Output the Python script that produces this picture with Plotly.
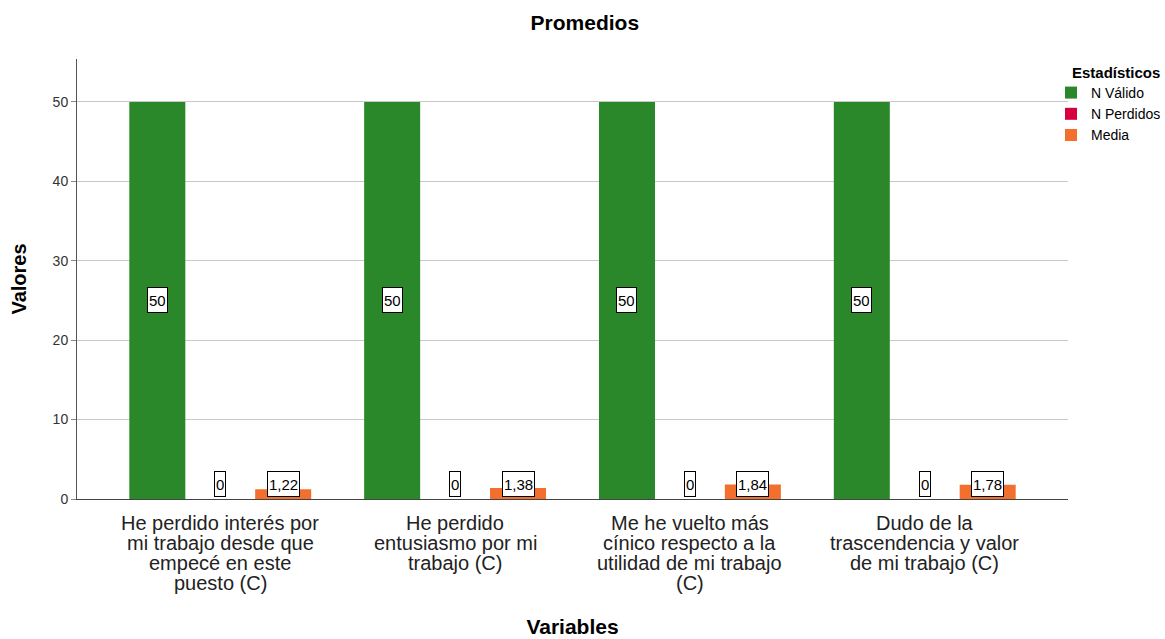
import plotly.graph_objects as go

categories = [
    "He perdido interés por\nmi trabajo desde que\nempecé en este\npuesto (C)",
    "He perdido\nentusiasmo por mi\ntrabajo (C)",
    "Me he vuelto más\ncínico respecto a la\nutilidad de mi trabajo\n(C)",
    "Dudo de la\ntrascendencia y valor\nde mi trabajo (C)",
]
series_names = ["N Válido", "N Perdidos", "Media"]
n_valido = [50, 50, 50, 50]
n_perdidos = [0, 0, 0, 0]
media = [1.22, 1.38, 1.84, 1.78]
y_ticks = [0, 10, 20, 30, 40, 50]

colors = ["#2a882b", "#d6003c", "#f36f2e"]
FONT = "Liberation Sans, Arial, sans-serif"
BARGAP = 0.196
GROUPGAP = 0.11
CAT_FONT = 20
CAT_LINE = 20
CAT_FIRST = 24

xs = list(range(len(categories)))
all_series = [n_valido, n_perdidos, media]

fig = go.Figure()
for name, vals, col in zip(series_names, all_series, colors):
    fig.add_trace(go.Bar(x=xs, y=vals, name=name, marker=dict(color=col, line=dict(width=0))))

slot = (1 - BARGAP) / len(all_series)
offsets = [(k - (len(all_series) - 1) / 2) * slot for k in range(len(all_series))]

def fmt(v):
    return ("%g" % v).replace(".", ",")

annotations = []
for k, vals in enumerate(all_series):
    for i, v in enumerate(vals):
        if v >= 10:
            y, yanchor, ysh = v / 2, "middle", 0
        else:
            y, yanchor, ysh = 0, "bottom", 2
        annotations.append(dict(
            x=xs[i] + offsets[k], y=y, xref="x", yref="y", text=fmt(v),
            showarrow=False, yanchor=yanchor, yshift=ysh,
            font=dict(family=FONT, size=15, color="#000"),
            bgcolor="white", bordercolor="#000", borderwidth=1, borderpad=1,
            height=22,
        ))

# category labels, one text per line (tight line spacing as in the reference)
for i, cat in enumerate(categories):
    for j, line in enumerate(cat.split("\n")):
        annotations.append(dict(
            x=xs[i], y=0, xref="x", yref="paper", text=line,
            showarrow=False, xanchor="center", yanchor="middle",
            yshift=-(CAT_FIRST + CAT_LINE * j),
            font=dict(family=FONT, size=CAT_FONT, color="#222"),
        ))

# legend title
annotations.append(dict(
    text="<b>Estadísticos</b>", xref="paper", yref="paper",
    x=(1070 - 77) / 991, y=(499 - 62) / 440, xanchor="left", yanchor="top",
    showarrow=False, font=dict(family=FONT, size=15, color="#000"),
))

fig.update_layout(
    width=1165, height=639,
    margin=dict(l=77, r=97, t=59, b=140, autoexpand=False),
    paper_bgcolor="white", plot_bgcolor="white",
    barmode="group", bargap=BARGAP, bargroupgap=GROUPGAP,
    font=dict(family=FONT, color="#000"),
    title=dict(text="<b>Promedios</b>", x=0.502, xref="container", xanchor="center",
               y=0.965, yref="container", yanchor="middle",
               font=dict(family=FONT, size=21, color="#000")),
    xaxis=dict(
        tickmode="array", tickvals=xs, showticklabels=False,
        range=[-0.61, len(categories) - 1 + 0.61], automargin=False,
        showline=True, linecolor="#444", linewidth=1, ticks="",
        showgrid=False, zeroline=False,
        title=dict(text="<b>Variables</b>", font=dict(family=FONT, size=21, color="#000"), standoff=120),
    ),
    yaxis=dict(
        range=[0, 55.4], tickvals=y_ticks, automargin=False,
        showline=True, linecolor="#555", linewidth=1,
        ticks="outside", ticklen=5, tickcolor="#888",
        showgrid=True, gridcolor="#c8c8c8", gridwidth=1, zeroline=False,
        tickfont=dict(family=FONT, size=14, color="#333"),
        title=dict(text="<b>Valores</b>", font=dict(family=FONT, size=20, color="#000"), standoff=20),
    ),
    legend=dict(
        xref="container", yref="container",
        x=1051 / 1165, xanchor="left", y=1 - 77 / 639, yanchor="top",
        font=dict(family=FONT, size=14, color="#000"),
        itemwidth=30, tracegroupgap=0, bgcolor="rgba(0,0,0,0)",
    ),
    annotations=annotations,
)

fig.write_html("out.html")
